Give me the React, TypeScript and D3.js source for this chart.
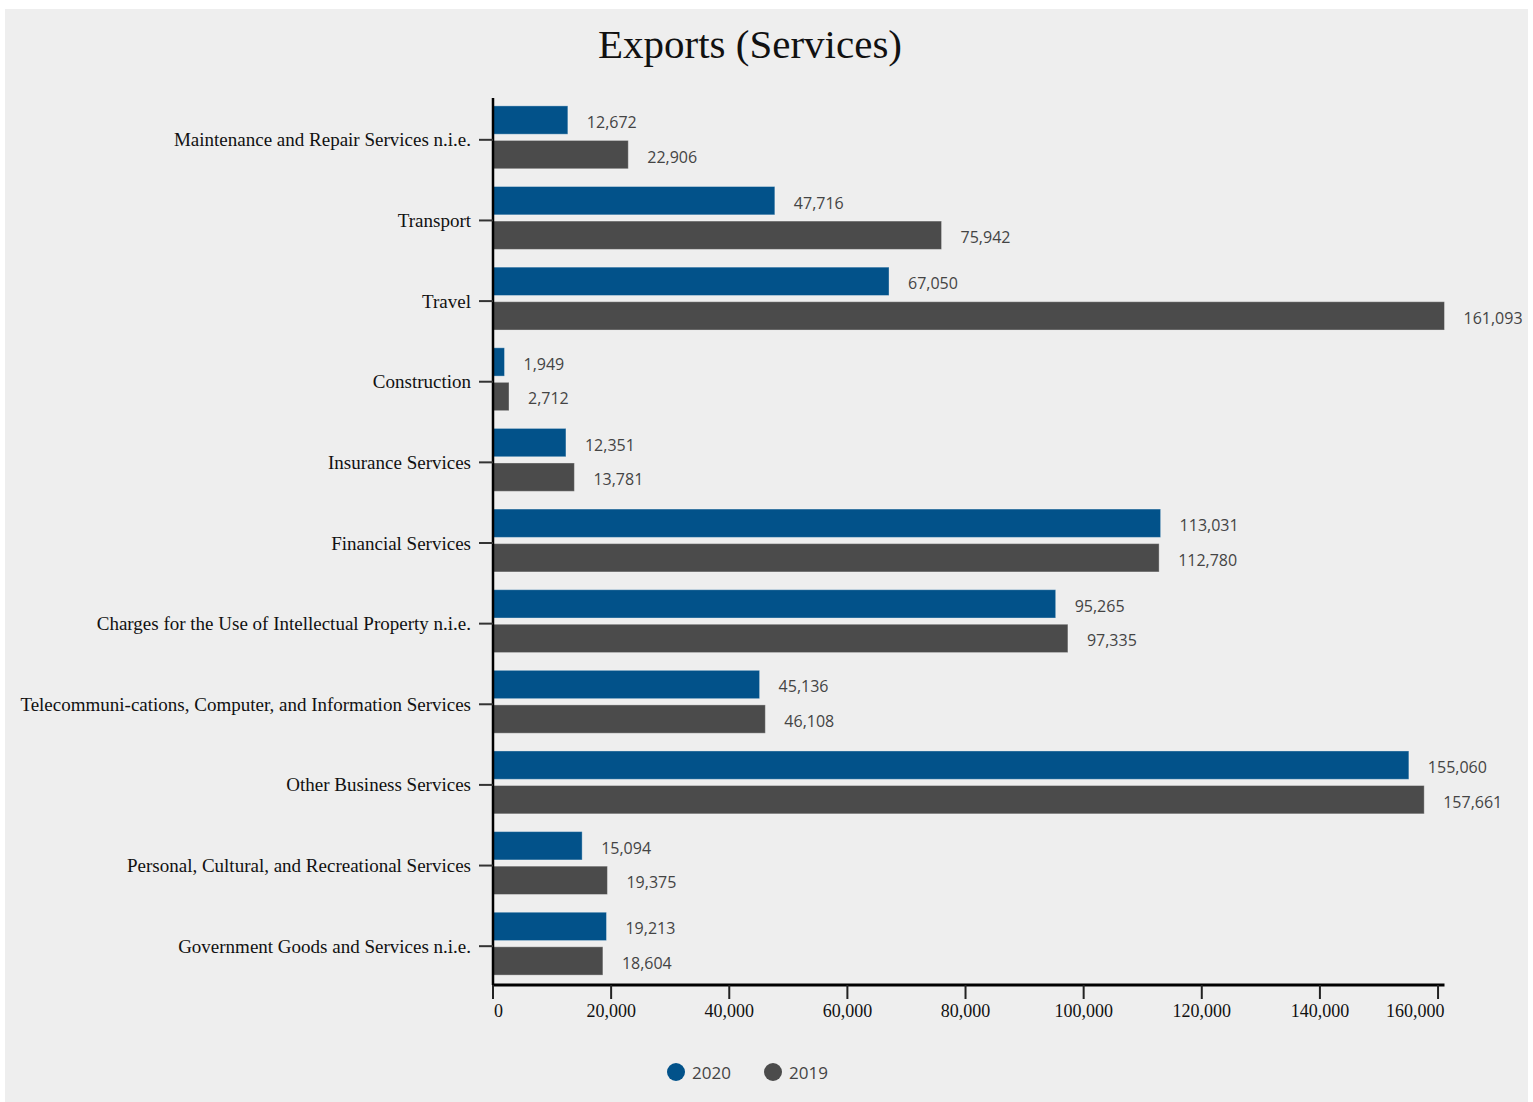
import React from 'react'
import * as d3 from 'd3'

const categories = [
    'Maintenance and Repair Services n.i.e.',
    'Transport',
    'Travel',
    'Construction',
    'Insurance Services',
    'Financial Services',
    'Charges for the Use of Intellectual Property n.i.e.',
    'Telecommuni-cations, Computer, and Information Services',
    'Other Business Services',
    'Personal, Cultural, and Recreational Services',
    'Government Goods and Services n.i.e.',
]
const values2020 = [12672, 47716, 67050, 1949, 12351, 113031, 95265, 45136, 155060, 15094, 19213]
const values2019 = [22906, 75942, 161093, 2712, 13781, 112780, 97335, 46108, 157661, 19375, 18604]
const seriesNames = ['2020', '2019']
const xTicks = [0, 20000, 40000, 60000, 80000, 100000, 120000, 140000, 160000]

const W = 1533
const H = 1102
const left = 493
const right = 1444.5
const top = 98
const bottom = 985

const colors = ['#02528a', '#4b4b4b']
const serif = '"Liberation Serif", "DejaVu Serif", serif'
const sans = '"Open Sans", "Lato", sans-serif'
const fmt = d3.format(',')

const App: React.FC = () => {
    const x = d3.scaleLinear().domain([0, d3.max(values2019)!]).range([left, right])
    const y0 = d3.scaleBand<string>().domain(categories).range([top, bottom]).paddingInner(0.22).paddingOuter(0.11)
    const y1 = d3.scaleBand<string>().domain(seriesNames).range([0, y0.bandwidth()]).paddingInner(0.18)
    const series = [values2020, values2019]

    return (
        <svg width={W} height={H} style={{ position: 'absolute', left: 0, top: 0 }}>
            <rect x={5} y={9} width={1523} height={1093} fill="#eeeeee" />
            <text x={750} y={58} textAnchor="middle" fontFamily={serif} fontSize={41} fill="#111">
                Exports (Services)
            </text>

            {/* bars + value labels */}
            {categories.map((c, i) => (
                <g key={c} transform={`translate(0,${y0(c)! - 1})`}>
                    {seriesNames.map((s, k) => {
                        const v = series[k][i]
                        const by = y1(s)!
                        return (
                            <g key={s}>
                                <rect
                                    x={x(0)}
                                    y={by}
                                    width={x(v) - x(0)}
                                    height={y1.bandwidth()}
                                    fill={colors[k]}
                                    stroke="rgba(255,255,255,0.35)"
                                    strokeWidth={1}
                                />
                                <text
                                    x={x(v) + 19}
                                    y={by + y1.bandwidth() / 2 + 2}
                                    dominantBaseline="central"
                                    fontFamily={sans}
                                    fontSize={16}
                                    fill="#444"
                                >
                                    {fmt(v)}
                                </text>
                            </g>
                        )
                    })}
                </g>
            ))}

            {/* y axis */}
            <line x1={left} x2={left} y1={top} y2={bottom} stroke="#000" strokeWidth={2.5} />
            {categories.map((c) => {
                const cy = y0(c)! + y0.bandwidth() / 2 + 1.5
                return (
                    <g key={c}>
                        <line x1={left - 14} x2={left} y1={cy} y2={cy} stroke="#333" strokeWidth={2} />
                        <text
                            x={left - 22}
                            y={cy}
                            dominantBaseline="central"
                            textAnchor="end"
                            fontFamily={serif}
                            fontSize={19}
                            fill="#111"
                        >
                            {c}
                        </text>
                    </g>
                )
            })}

            {/* x axis */}
            <line x1={left} x2={right} y1={bottom} y2={bottom} stroke="#000" strokeWidth={3} />
            {xTicks.map((t, i) => {
                const first = i === 0
                const last = i === xTicks.length - 1
                return (
                    <g key={t} transform={`translate(${x(t)},${bottom})`}>
                        <line y1={0} y2={14} stroke="#222" strokeWidth={2} />
                        <text
                            x={first ? 1 : last ? right - x(t) : 0}
                            y={32}
                            textAnchor={first ? 'start' : last ? 'end' : 'middle'}
                            fontFamily={serif}
                            fontSize={18}
                            fill="#111"
                        >
                            {fmt(t)}
                        </text>
                    </g>
                )
            })}

            {/* legend */}
            {seriesNames.map((s, k) => (
                <g key={s} transform={`translate(${676 + k * 97},1072)`}>
                    <circle r={9} fill={colors[k]} />
                    <text x={16} dominantBaseline="central" fontFamily={sans} fontSize={17} fill="#444">
                        {s}
                    </text>
                </g>
            ))}
        </svg>
    )
}

export default App
